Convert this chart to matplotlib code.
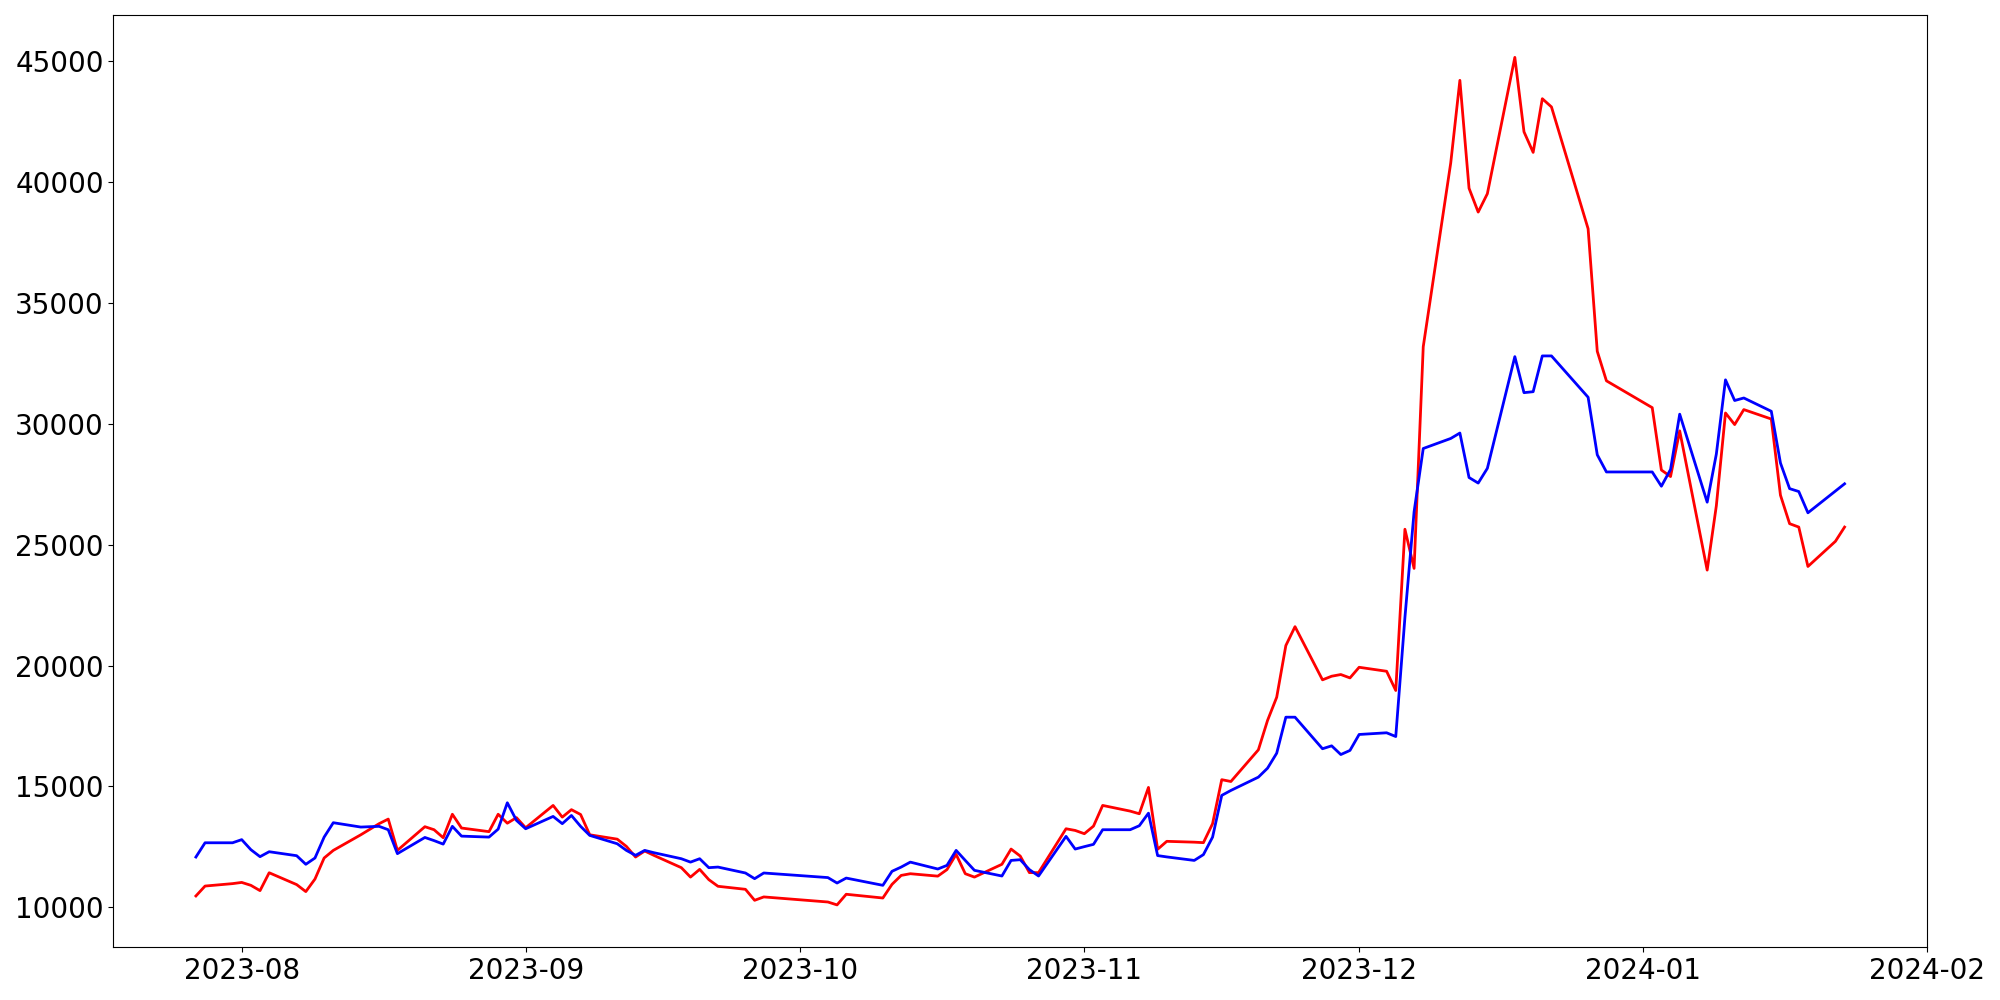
import pandas as pd
import matplotlib.pyplot as plt

# trading days (KRX calendar, holidays skipped)
dates = [
    "2023-07-27", "2023-07-28", "2023-07-31", "2023-08-01", "2023-08-02", "2023-08-03", "2023-08-04",
    "2023-08-07", "2023-08-08", "2023-08-09", "2023-08-10", "2023-08-11",
    "2023-08-14", "2023-08-16", "2023-08-17", "2023-08-18",
    "2023-08-21", "2023-08-22", "2023-08-23", "2023-08-24", "2023-08-25",
    "2023-08-28", "2023-08-29", "2023-08-30", "2023-08-31", "2023-09-01",
    "2023-09-04", "2023-09-05", "2023-09-06", "2023-09-07", "2023-09-08",
    "2023-09-11", "2023-09-12", "2023-09-13", "2023-09-14", "2023-09-15",
    "2023-09-18", "2023-09-19", "2023-09-20", "2023-09-21", "2023-09-22",
    "2023-09-25", "2023-09-26", "2023-09-27",
    "2023-10-04", "2023-10-05", "2023-10-06",
    "2023-10-10", "2023-10-11", "2023-10-12", "2023-10-13",
    "2023-10-16", "2023-10-17", "2023-10-18", "2023-10-19", "2023-10-20",
    "2023-10-23", "2023-10-24", "2023-10-25", "2023-10-26", "2023-10-27",
    "2023-10-30", "2023-10-31", "2023-11-01", "2023-11-02", "2023-11-03",
    "2023-11-06", "2023-11-07", "2023-11-08", "2023-11-09", "2023-11-10",
    "2023-11-13", "2023-11-14", "2023-11-15", "2023-11-16", "2023-11-17",
    "2023-11-20", "2023-11-21", "2023-11-22", "2023-11-23", "2023-11-24",
    "2023-11-27", "2023-11-28", "2023-11-29", "2023-11-30", "2023-12-01",
    "2023-12-04", "2023-12-05", "2023-12-06", "2023-12-07", "2023-12-08",
    "2023-12-11", "2023-12-12", "2023-12-13", "2023-12-14", "2023-12-15",
    "2023-12-18", "2023-12-19", "2023-12-20", "2023-12-21", "2023-12-22",
    "2023-12-26", "2023-12-27", "2023-12-28",
    "2024-01-02", "2024-01-03", "2024-01-04", "2024-01-05",
    "2024-01-08", "2024-01-09", "2024-01-10", "2024-01-11", "2024-01-12",
    "2024-01-15", "2024-01-16", "2024-01-17", "2024-01-18", "2024-01-19",
    "2024-01-22", "2024-01-23",
]

red_values = [
    10470, 10880, 10980, 11030, 10910, 10690, 11430,
    10940, 10650, 11170, 12040, 12355,
    13000, 13460, 13650, 12355,
    13335, 13210, 12880, 13850, 13280,
    13130, 13850, 13480, 13710, 13290,
    14215, 13730, 14040, 13840, 13000,
    12820, 12520, 12080, 12330, 12150,
    11640, 11250, 11570, 11145, 10870,
    10745, 10290, 10430,
    10220, 10100, 10540,
    10385, 10950, 11320, 11390,
    11290, 11560, 12190, 11390, 11250,
    11780, 12410, 12120, 11435, 11435,
    13250, 13180, 13045, 13360, 14215,
    13980, 13870, 14960, 12400, 12730,
    12695, 12675, 13460, 15280, 15205,
    16515, 17730, 18690, 20830, 21610,
    19410, 19560, 19630, 19490, 19930,
    19765, 18970, 25640, 24020, 33190,
    40790, 44210, 39745, 38760, 39520,
    45160, 42080, 41230, 43450, 43110,
    38070, 33000, 31780,
    30670, 28090, 27820, 29710,
    23950, 26610, 30450, 29970, 30590,
    30200, 27050, 25870, 25730, 24100,
    25140, 25730,
]

blue_values = [
    12080, 12670, 12670, 12800, 12385, 12095, 12300,
    12135, 11780, 12040, 12905, 13500,
    13320, 13350, 13210, 12220,
    12890, 12760, 12615, 13350, 12945,
    12905, 13235, 14325, 13595, 13250,
    13760, 13460, 13800, 13350, 12975,
    12630, 12355, 12150, 12355, 12260,
    12010, 11870, 12010, 11640, 11665,
    11420, 11185, 11420,
    11230, 11005, 11210,
    10910, 11490, 11665, 11870,
    11585, 11735, 12355, 11940, 11530,
    11295, 11940, 11970, 11560, 11295,
    12935, 12410, 12510, 12605, 13210,
    13210, 13375, 13895, 12140, 12085,
    11940, 12180, 12905, 14630, 14835,
    15385, 15755, 16375, 17865, 17865,
    16560, 16680, 16320, 16490, 17150,
    17220, 17065, 21990, 26360, 28980,
    29395, 29620, 27780, 27550, 28160,
    32780, 31290, 31330, 32810, 32810,
    31100, 28720, 28010,
    28010, 27420, 28115, 30400,
    26760, 28750, 31820, 30965, 31070,
    30520, 28380, 27320, 27200, 26320,
    27220, 27520,
]

df = pd.DataFrame({"date": pd.to_datetime(dates), "red": red_values, "blue": blue_values})

fig, ax = plt.subplots(figsize=(20, 10), dpi=100)
ax.plot(df["date"], df["red"], color="red", linewidth=2)
ax.plot(df["date"], df["blue"], color="blue", linewidth=2)
ax.tick_params(axis="both", labelsize=20)

plt.tight_layout()
plt.savefig("out.png", dpi=100)
plt.close()
